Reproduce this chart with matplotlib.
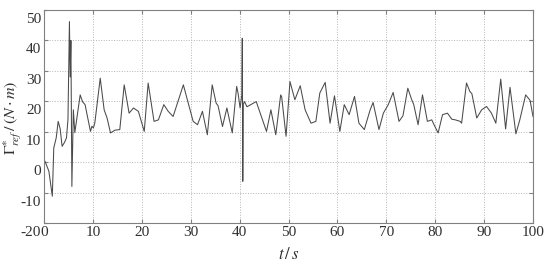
import matplotlib
matplotlib.use("Agg")
import matplotlib.pyplot as plt
import matplotlib.transforms as mtransforms

t = [0.0, 0.2, 1.0, 1.7, 2.0, 2.5, 2.9, 3.3, 3.7, 4.2, 4.6, 4.9, 5.2, 5.35, 5.5, 5.7, 6.0, 6.3,
     7.4, 7.9, 8.4, 9.5, 9.8, 10.1, 10.4, 11.5, 12.3, 12.9, 13.6, 14.5, 15.5,
     16.4, 17.4, 18.3, 19.3, 20.5, 21.3, 22.5, 23.4, 24.5, 25.4, 26.4, 28.5,
     30.5, 31.4, 32.4, 33.4, 34.4, 35.2, 35.6, 36.5, 37.4, 38.5, 39.4, 39.7, 40.1,
     40.45, 40.55, 40.65, 40.75, 41.0, 41.5, 43.4, 45.5, 46.4, 47.4, 48.4, 48.6, 49.5,
     50.3, 51.3, 52.4, 53.4, 54.6, 55.6, 56.4, 57.5, 58.5, 59.4, 60.5, 61.4, 62.4,
     63.5, 64.4, 65.5, 66.7, 67.3, 68.5, 69.4, 70.4, 71.4, 72.6, 73.4, 74.4, 75.2,
     75.6, 76.5, 77.4, 78.4, 79.3, 79.7, 80.6, 81.5, 82.5, 83.4, 84.1, 85.1, 85.4,
     86.4, 87.1, 87.5, 88.5, 89.5, 90.5, 91.5, 92.4, 93.4, 94.4, 95.3, 96.5, 97.3,
     98.5, 99.4, 100.0]
v = [0.5, 0.3, -3.0, -11.2, 4.7, 8.0, 13.4, 11.0, 5.2, 6.5, 8.0, 14.0, 46.2, 28.0, 40.0, -8.0, 17.2, 9.7,
     22.1, 19.8, 18.9, 10.1, 11.8, 11.2, 13.0, 27.6, 17.2, 14.5, 9.6, 10.5, 10.7,
     25.4, 16.1, 17.8, 16.7, 10.1, 26.0, 13.4, 13.9, 18.9, 16.7, 15.0, 25.4,
     13.4, 12.3, 16.7, 9.0, 25.4, 19.4, 18.5, 11.7, 17.8, 9.6, 24.9, 22.5, 17.8,
     22.0, 40.7, -6.3, 19.0, 19.9, 18.2, 19.9, 10.1, 17.2, 9.0, 22.1, 21.5, 8.5,
     26.5, 20.5, 25.1, 17.2, 12.8, 13.4, 22.7, 26.2, 12.8, 21.8, 10.1, 18.9, 15.6,
     21.6, 12.8, 10.7, 17.2, 19.6, 10.7, 16.1, 18.9, 22.9, 13.4, 15.2, 24.3, 20.5,
     19.0, 12.3, 22.1, 13.4, 13.9, 12.5, 9.6, 15.6, 16.1, 14.1, 13.9, 13.4, 12.8,
     26.0, 23.2, 22.5, 14.5, 17.2, 18.3, 16.1, 12.8, 27.3, 10.9, 24.6, 9.3, 13.9,
     22.1, 20.3, 15.0]

xticks = [0, 10, 20, 30, 40, 50, 60, 70, 80, 90, 100]
yticks = [-20, -10, 0, 10, 20, 30, 40, 50]

plt.rcParams['font.family'] = ['Liberation Serif', 'DejaVu Serif']
plt.rcParams['mathtext.fontset'] = 'stix'
plt.rcParams['axes.unicode_minus'] = False

fig = plt.figure(figsize=(5.5, 2.72), dpi=100)
ax = fig.add_axes([44/550, 1-223/272, (533-44)/550, (223-10)/272])
ax.plot(t, v, color='#4a4a4a', lw=0.75)
ax.set_xlim(0, 100)
ax.set_ylim(-20, 50)
ax.set_xticks(xticks)
ax.set_yticks(yticks)
ax.grid(True, linestyle=':', color='#b5b5b5', lw=0.7)
for s in ax.spines.values():
    s.set_color('#808080')
    s.set_linewidth(0.8)
ax.tick_params(direction='in', length=3, color='#808080', top=True, right=True,
               labelsize=11, labelcolor='#303030', pad=2)
offset = mtransforms.ScaledTranslation(0, -8/100, fig.dpi_scale_trans)
for lab in ax.get_yticklabels():
    lab.set_transform(lab.get_transform() + offset)
ax.set_xlabel(r'$t\,/\,s$', fontsize=12, color='#303030', labelpad=6)
fig.text(13/550, 1-118/272, r'$\Gamma^{*}_{ref}\,/\,(N\cdot m)$', fontsize=11.5,
         color='#303030', rotation=90, ha='center', va='center')
fig.savefig('out.png', dpi=100)
